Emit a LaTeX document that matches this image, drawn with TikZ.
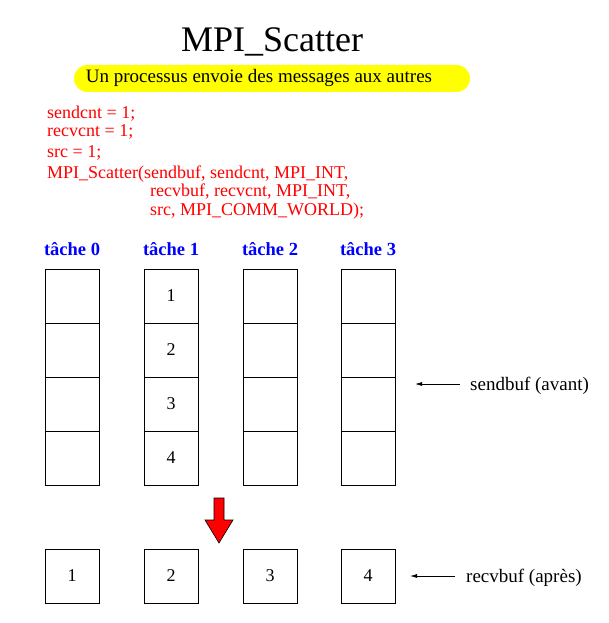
\documentclass[tikz,border=0pt]{standalone}
\usepackage{fontspec}
\setmainfont{Liberation Serif}
\usetikzlibrary{arrows.meta, positioning}
\definecolor{codered}{HTML}{FF0000}
\definecolor{taskblue}{HTML}{0000FF}
\definecolor{banneryellow}{HTML}{FFFF00}

\begin{document}
\begin{tikzpicture}[
    x=1pt, y=-1pt,
    cell/.style={draw, line width=1pt, minimum width=54pt, minimum height=54pt,
                 inner sep=0pt, outer sep=0pt, font=\fontsize{18}{18}\selectfont},
    task/.style={text=taskblue, anchor=base, font=\fontsize{18.5}{18.5}\selectfont\bfseries},
    code/.style={text=codered, anchor=base west, inner sep=0pt,
                 font=\fontsize{18}{18}\selectfont},
    legend/.style={anchor=base west, inner sep=0pt, font=\fontsize{19}{19}\selectfont}
]
    \useasboundingbox (0,0) rectangle (609,623);

    % title and banner
    \node[anchor=base, font=\fontsize{36}{36}\selectfont] (title) at (272,52) {MPI\_Scatter};
    \node[fill=banneryellow, rounded corners=13.5pt, minimum width=396pt, minimum height=27pt,
          inner sep=0pt] (banner) at (272,78.5) {};
    \node[anchor=base, font=\fontsize{19}{19}\selectfont] (bannertxt) at (259,83)
        {Un processus envoie des messages aux autres};

    % code lines
    \node[code] (l1) at (47,118) {sendcnt = 1;};
    \node[code] (l2) at (47,136) {recvcnt = 1;};
    \node[code] (l3) at (47,157) {src = 1;};
    \node[code] (l4) at (47,178) {MPI\_Scatter(sendbuf, sendcnt, MPI\_INT,};
    \node[code] (l5) at (150,196) {recvbuf, recvcnt, MPI\_INT,};
    \node[code] (l6) at (150,215) {src, MPI\_COMM\_WORLD);};

    % tasks, send buffers and receive buffers
    \foreach \c/\x in {0/72,1/171,2/270,3/368} {
        \node[task] (task-\c) at (\x,255) {tâche \c};
        \node[cell] (send-\c-1) at (\x,296) {\ifnum\c=1 1\fi};
        \node[cell, below=0pt of send-\c-1] (send-\c-2) {\ifnum\c=1 2\fi};
        \node[cell, below=0pt of send-\c-2] (send-\c-3) {\ifnum\c=1 3\fi};
        \node[cell, below=0pt of send-\c-3] (send-\c-4) {\ifnum\c=1 4\fi};
        \pgfmathtruncatemacro{\n}{\c+1}
        \node[cell] (recv-\c) at (\x,576) {\n};
    }

    % red arrow
    \draw[fill=codered, line width=0.6pt]
        (214,498) -- (224,498) -- (224,520) -- (233,520) -- (219,543)
        -- (205,520) -- (214,520) -- cycle;

    % legends
    \node[legend] (sendlbl) at (470,390) {sendbuf (avant)};
    \node[legend] (recvlbl) at (466,582) {recvbuf (après)};
    \coordinate (sendtip) at (415,384);
    \coordinate (recvtip) at (410,576);
    \draw[{Latex[length=7pt,width=4pt]}-, line width=0.8pt] (sendtip) -- ++(45,0);
    \draw[{Latex[length=7pt,width=4pt]}-, line width=0.8pt] (recvtip) -- ++(45,0);
\end{tikzpicture}
\end{document}
